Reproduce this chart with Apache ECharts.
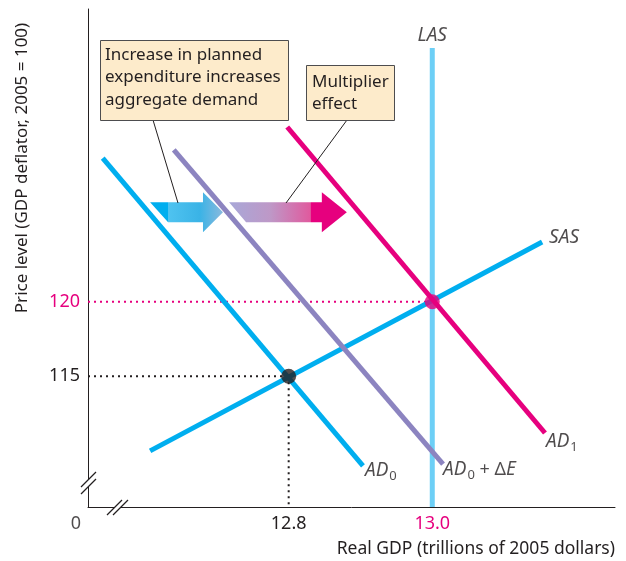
<!DOCTYPE html>
<html>
<head>
<meta charset="utf-8">
<script src="https://cdn.jsdelivr.net/npm/echarts@6.0.0/dist/echarts.min.js"></script>
<style>
  html, body { margin: 0; padding: 0; background: #fff; }
  #chart { width: 626px; height: 561px; }
</style>
</head>
<body>
<div id="chart"></div>
<script>
// axis ticks
const xTicks = [12.8, 13.0];
const yTicks = [115, 120];
const xRange = [12.5205, 13.2545];
const yRange = [106.24, 139.62];

// curves (real GDP, price level)
const las = [[13.0, 106.24], [13.0, 137.0]];
const sas = [[12.607, 110.0], [13.153, 124.0]];
const ad0 = [[12.541, 129.63], [12.9035, 108.99]];
const adPlusE = [[12.640, 130.17], [13.015, 109.12]];
const ad1 = [[12.798, 131.71], [13.157, 111.20]];

// equilibrium points
const eq0 = [12.8, 115];
const eq1 = [13.0, 120];

// shift arrows: [from x, to x, price level]
const shiftArrows = [[12.607, 12.7085, 126.0], [12.717, 12.881, 126.0]];

const INK = '#231F20';
const MAGENTA = '#E6007E';
const BLUE = '#00AEEF';
const LIGHTBLUE = '#6DCFF6';
const PURPLE = '#8C84C0';
const FONT = 'Noto Sans';

const arrowLook = [
  { head: 20, slant: 18, stops: [[0, '#00AEEF'], [0.24, '#00AEEF'], [0.25, '#4FC3F0'], [0.68, '#3AB3E6'], [1, '#8AB9DD']] },
  { head: 25, slant: 17, stops: [[0, '#A8A8D8'], [0.35, '#BE98C7'], [0.69, '#E05A9E'], [0.7, MAGENTA], [1, MAGENTA]] }
];

const subRich = {
  i: { fontStyle: 'italic', fontSize: 19, color: INK, fontFamily: FONT },
  n: { fontSize: 18, color: INK, fontFamily: FONT },
  s: { fontSize: 13, color: INK, fontFamily: FONT, padding: [10, 0, 0, 1] }
};

function curve(name, data, color) {
  return {
    name, type: 'line', data, showSymbol: false, silent: true,
    lineStyle: { color, width: 5, cap: 'butt' }, z: 3
  };
}
function dotted(data, color) {
  return {
    type: 'line', data, showSymbol: false, silent: true,
    lineStyle: { color, width: 2, type: [2, 4] }, z: 2
  };
}
function tag(at, text, position, distance, offset) {
  return { value: at, label: { show: true, formatter: text, position, distance, offset, rich: subRich } };
}

const chart = echarts.init(document.getElementById('chart'));
chart.setOption({
  animation: false,
  backgroundColor: '#fff',
  grid: { left: 88, right: 11, top: 9, bottom: 54 },
  xAxis: {
    type: 'value', min: xRange[0], max: xRange[1],
    axisLine: { lineStyle: { color: INK, width: 1 } },
    axisTick: { show: false },
    splitLine: { show: false },
    axisLabel: {
      customValues: xTicks, margin: 8, fontSize: 18, fontFamily: FONT,
      color: INK,
      formatter: v => v === 13 ? '{m|13.0}' : v.toFixed(1),
      rich: { m: { color: MAGENTA, fontSize: 18, fontFamily: FONT } }
    }
  },
  yAxis: {
    type: 'value', min: yRange[0], max: yRange[1],
    axisLine: { show: true, lineStyle: { color: INK, width: 1 } },
    axisTick: { show: false },
    splitLine: { show: false },
    axisLabel: {
      customValues: yTicks, margin: 8, fontSize: 18, fontFamily: FONT,
      color: INK,
      formatter: v => v === 120 ? '{m|120}' : String(v),
      rich: { m: { color: MAGENTA, fontSize: 18, fontFamily: FONT } }
    }
  },
  series: [
    {
      type: 'custom', silent: true, z: 1,
      data: shiftArrows,
      renderItem(params, api) {
        const look = arrowLook[params.dataIndex];
        const a = api.coord([api.value(0), api.value(2)]);
        const b = api.coord([api.value(1), api.value(2)]);
        const x0 = a[0], x1 = b[0], cy = a[1];
        const sh = 10, hh = 20, hl = look.head;
        return {
          type: 'polygon',
          shape: { points: [
            [x0, cy - sh], [x1 - hl, cy - sh], [x1 - hl, cy - hh], [x1, cy],
            [x1 - hl, cy + hh], [x1 - hl, cy + sh], [x0 + look.slant, cy + sh]
          ] },
          style: {
            fill: new echarts.graphic.LinearGradient(0, 0, 1, 0,
              look.stops.map(s => ({ offset: s[0], color: s[1] })))
          }
        };
      }
    },
    dotted([[xRange[0], eq1[1]], eq1], MAGENTA),
    dotted([[xRange[0], eq0[1]], eq0], INK),
    dotted([eq0, [eq0[0], yRange[0]]], INK),
    curve('LAS', las, LIGHTBLUE),
    curve('SAS', sas, BLUE),
    curve('AD0', ad0, BLUE),
    curve('AD0+dE', adPlusE, PURPLE),
    curve('AD1', ad1, MAGENTA),
    {
      type: 'scatter', silent: true, z: 5,
      data: [eq0], symbolSize: 15, itemStyle: { color: INK }
    },
    {
      type: 'scatter', silent: true, z: 5,
      data: [eq1], symbolSize: 15, itemStyle: { color: MAGENTA }
    },
    {
      type: 'scatter', silent: true, z: 6, symbolSize: 0,
      data: [
        tag(las[1], '{i|LAS}', 'top', 3, [0, 0]),
        tag(sas[1], '{i|SAS}', 'right', 7, [0, -4]),
        tag(ad1[1], '{i|AD}{s|1}', 'right', 1, [0, 9]),
        tag(ad0[1], '{i|AD}{s|0}', 'right', 2, [0, 5]),
        tag(adPlusE[1], '{i|AD}{s|0}{n| + Δ}{i|E}', 'right', 0, [0, 6]),
        tag([xRange[0], yRange[0]], '{n|0}', 'inside', 0, [-12, 17])
      ]
    }
  ],
  graphic: [
    // axis titles
    {
      type: 'text', x: 22, y: 168, rotation: Math.PI / 2, z: 10,
      style: { text: 'Price level (GDP deflator, 2005 = 100)', fill: INK, font: '17px "Noto Sans"', align: 'center', verticalAlign: 'middle' }
    },
    {
      type: 'text', x: 615, y: 549, z: 10,
      style: { text: 'Real GDP (trillions of 2005 dollars)', fill: INK, font: '17.5px "Noto Sans"', align: 'right', verticalAlign: 'middle' }
    },
    // axis breaks
    { type: 'polygon', z: 10, shape: { points: [[81, 487], [96, 472], [96, 479], [81, 494]] }, style: { fill: '#fff' } },
    { type: 'line', z: 11, shape: { x1: 81, y1: 487, x2: 96, y2: 472 }, style: { stroke: INK, lineWidth: 1.2 } },
    { type: 'line', z: 11, shape: { x1: 81, y1: 494, x2: 96, y2: 479 }, style: { stroke: INK, lineWidth: 1.2 } },
    { type: 'polygon', z: 10, shape: { points: [[107, 515], [122, 500], [128, 500], [113, 515]] }, style: { fill: '#fff' } },
    { type: 'line', z: 11, shape: { x1: 107, y1: 515, x2: 122, y2: 500 }, style: { stroke: INK, lineWidth: 1.2 } },
    { type: 'line', z: 11, shape: { x1: 113, y1: 515, x2: 128, y2: 500 }, style: { stroke: INK, lineWidth: 1.2 } },
    // callouts
    { type: 'line', z: 12, shape: { x1: 153, y1: 120, x2: 178, y2: 203 }, style: { stroke: INK, lineWidth: 1 } },
    { type: 'line', z: 12, shape: { x1: 347, y1: 120, x2: 286, y2: 203 }, style: { stroke: INK, lineWidth: 1 } },
    {
      type: 'rect', z: 12, shape: { x: 100.5, y: 40.5, width: 188, height: 80 },
      style: { fill: '#FDEBCB', stroke: '#4D4D4F', lineWidth: 1 }
    },
    {
      type: 'text', z: 13, x: 105, y: 43.5,
      style: { text: 'Increase in planned\nexpenditure increases\naggregate demand', fill: INK, font: '17px "Noto Sans"', lineHeight: 22.5 }
    },
    {
      type: 'rect', z: 12, shape: { x: 306.5, y: 65.5, width: 88, height: 55 },
      style: { fill: '#FDEBCB', stroke: '#4D4D4F', lineWidth: 1 }
    },
    {
      type: 'text', z: 13, x: 312, y: 71,
      style: { text: 'Multiplier\neffect', fill: INK, font: '17px "Noto Sans"', lineHeight: 22 }
    }
  ]
});
</script>
</body>
</html>
